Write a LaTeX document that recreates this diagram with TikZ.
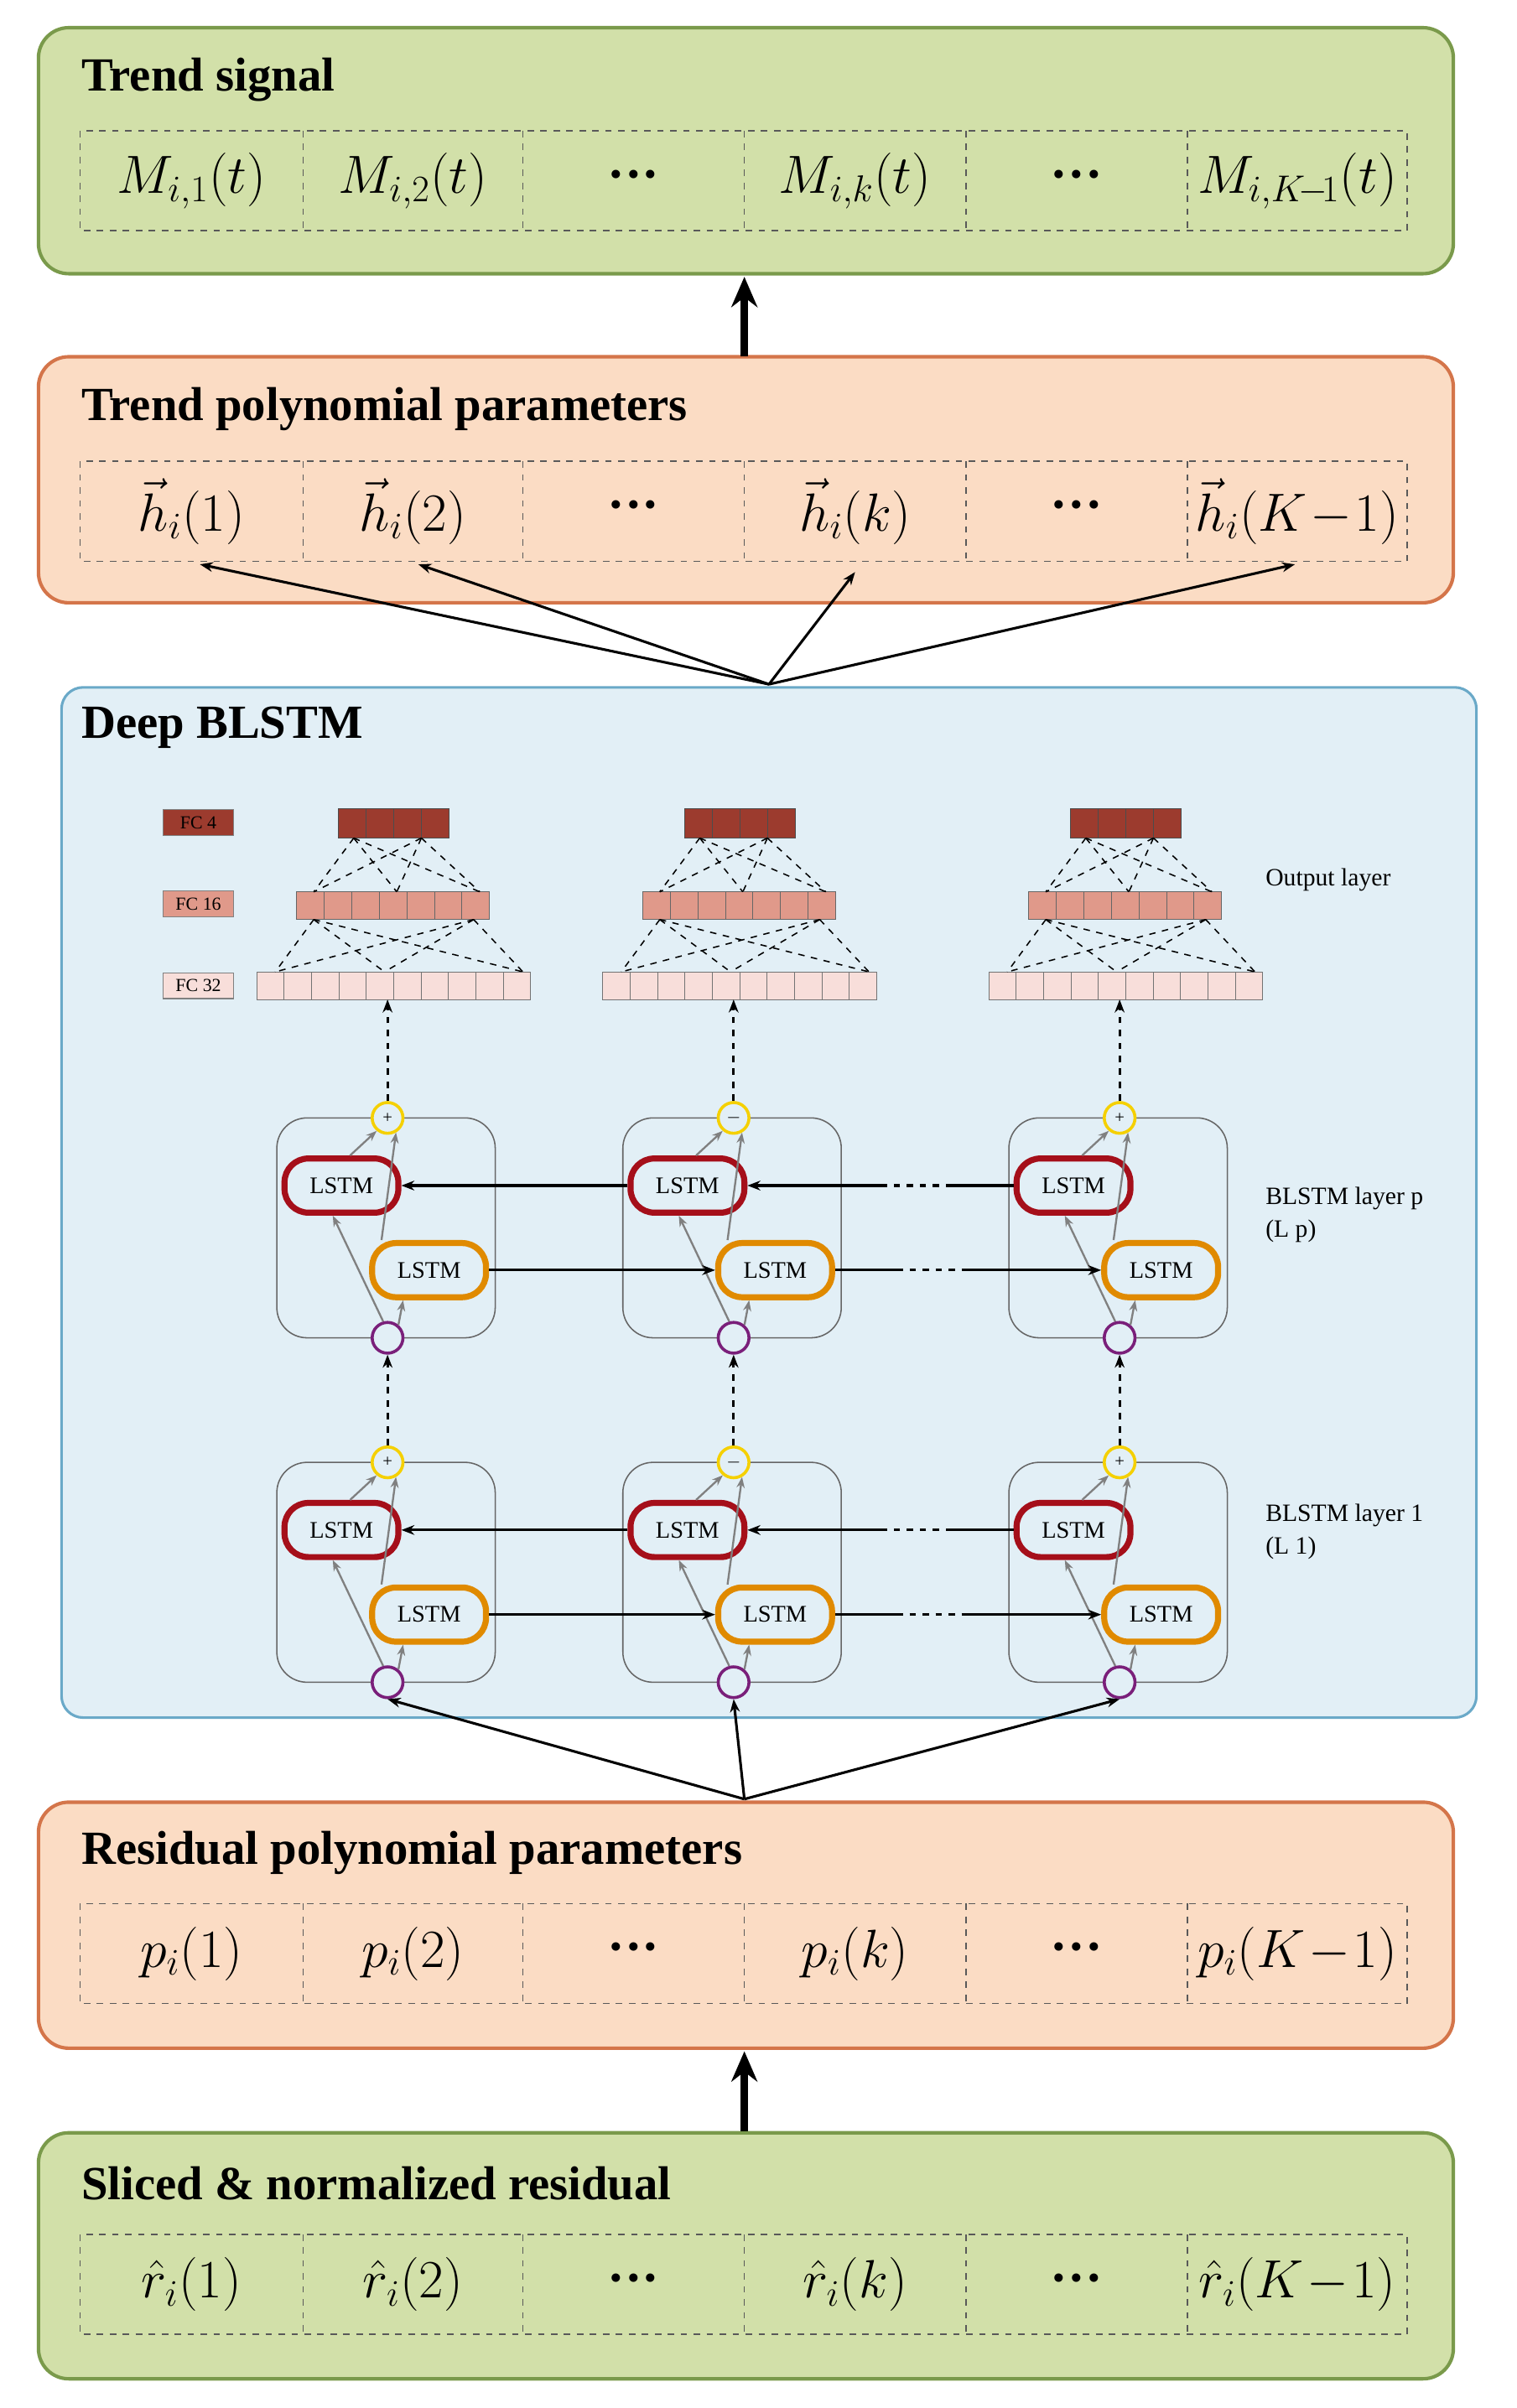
\documentclass[tikz,border=0pt]{standalone}
\usepackage{fontspec}
\setmainfont{Liberation Serif}
\usetikzlibrary{arrows.meta,calc}
\definecolor{gfill}{HTML}{D2E0A9}\definecolor{gline}{HTML}{7A9A4B}
\definecolor{ofill}{HTML}{FBDCC4}\definecolor{oline}{HTML}{D4754A}
\definecolor{bfill}{HTML}{E2EFF6}\definecolor{bline}{HTML}{6AA9C8}
\definecolor{fcA}{HTML}{9C3B2E}\definecolor{fcB}{HTML}{E0998A}\definecolor{fcC}{HTML}{F8DEDA}
\definecolor{lred}{HTML}{A50F1A}\definecolor{lorg}{HTML}{E08A00}
\definecolor{lyel}{HTML}{F5D000}\definecolor{lpur}{HTML}{7A1F7A}
\begin{document}
\begin{tikzpicture}[x=0.025cm,y=-0.025cm,
  bigbox/.style={rounded corners=14pt,line width=1.6pt},
  title/.style={anchor=west,font=\fontsize{22}{26}\selectfont\bfseries},
  cell/.style={font=\fontsize{24}{28}\selectfont},
  lstm/.style={rounded corners=11pt,line width=2.8pt,minimum width=1.85cm,minimum height=0.88cm,fill=bfill,font=\fontsize{11}{13}\selectfont},
  circ/.style={circle,line width=1.4pt,minimum size=0.5cm,inner sep=0pt,fill=bfill,font=\fontsize{8}{8}\selectfont},
  gar/.style={gray,line width=0.9pt,-{Stealth[length=5pt]}},
  bar/.style={-{Stealth[length=6pt]},line width=1.2pt},
  big/.style={-{Stealth[length=14pt,width=12pt]},line width=3.5pt},
  lab/.style={anchor=west,font=\fontsize{11.5}{15}\selectfont,align=left}]
\useasboundingbox (0,0) rectangle (986,1566);
\newcommand{\dts}{{\bfseries\textperiodcentered\textperiodcentered\textperiodcentered}}
\newcommand{\cellrow}[6]{%
  \draw[dashed,gray!70!black,line width=0.6pt] (52,#1) rectangle (915,#1+65);
  \foreach \xx in {197,340,484,628,772}{\draw[gray!70!black,dashed,line width=0.6pt] (\xx,#1) -- (\xx,#1+65);}
  \node[cell] (#2a) at (124.5,#1+32.5) {#3};
  \node[cell] (#2b) at (268.5,#1+32.5) {#4};
  \node[cell] (#2c) at (412,#1+32.5) {\dts};
  \node[cell] (#2d) at (556,#1+32.5) {#5};
  \node[cell] (#2e) at (700,#1+32.5) {\dts};
  \node[cell] (#2f) at (843.5,#1+32.5) {#6};}

\draw[bigbox,fill=gfill,draw=gline] (25,18) rectangle (945,178);
\node[title] (t1) at (48,52) {Trend signal};
\cellrow{85}{ts}{$M_{i,1}\bigl(t\bigr)$}{$M_{i,2}\bigl(t\bigr)$}{$M_{i,k}\bigl(t\bigr)$}{$M_{i,K\!-\!1}\bigl(t\bigr)$}

\draw[bigbox,fill=ofill,draw=oline] (25,232) rectangle (945,392);
\node[title] (t2) at (48,266) {Trend polynomial parameters};
\cellrow{300}{tp}{$\vec{h}_i\bigl(1\bigr)$}{$\vec{h}_i\bigl(2\bigr)$}{$\vec{h}_i\bigl(k\bigr)$}{$\vec{h}_i\bigl(K\!-\!1\bigr)$}

\draw[rounded corners=10pt,line width=1.2pt,fill=bfill,draw=bline] (40,447) rectangle (960,1117);
\node[title] (t3) at (48,473) {Deep BLSTM};

\draw[bigbox,fill=ofill,draw=oline] (25,1172) rectangle (945,1332);
\node[title] (t4) at (48,1205) {Residual polynomial parameters};
\cellrow{1238}{rp}{$p_i\bigl(1\bigr)$}{$p_i\bigl(2\bigr)$}{$p_i\bigl(k\bigr)$}{$p_i\bigl(K\!-\!1\bigr)$}

\draw[bigbox,fill=gfill,draw=gline] (25,1387) rectangle (945,1547);
\node[title] (t5) at (48,1420) {Sliced \& normalized residual};
\cellrow{1453}{sr}{$\hat{r}_i\bigl(1\bigr)$}{$\hat{r}_i\bigl(2\bigr)$}{$\hat{r}_i\bigl(k\bigr)$}{$\hat{r}_i\bigl(K\!-\!1\bigr)$}

\coordinate (a1s) at (484,232); \coordinate (a1e) at (484,180);
\draw[big] (a1s) -- (a1e);
\coordinate (a2s) at (484,1386); \coordinate (a2e) at (484,1334);
\draw[big] (a2s) -- (a2e);

\node[draw=gray,fill=fcA,minimum width=1.15cm,minimum height=0.42cm,inner sep=0pt,font=\fontsize{8.5}{8}\selectfont] (lfc4) at (129,535) {FC 4};
\node[draw=gray,fill=fcB,minimum width=1.15cm,minimum height=0.42cm,inner sep=0pt,font=\fontsize{8.5}{8}\selectfont] (lfc16) at (129,588) {FC 16};
\node[draw=gray,fill=fcC,minimum width=1.15cm,minimum height=0.42cm,inner sep=0pt,font=\fontsize{8.5}{8}\selectfont] (lfc32) at (129,641) {FC 32};
\node[lab] (ol) at (818,572) {Output layer};
\node[lab] (lp) at (818,790) {BLSTM layer p\\(L p)};
\node[lab] (l1) at (818,996) {BLSTM layer 1\\(L 1)};

\foreach \i/\cx/\sg in {1/252/+,2/477/$-$,3/728/+}{
  \foreach \k in {0,...,3}{\draw[fill=fcA,draw=black!70] (\cx-32+\k*18,526) rectangle ++(18,19);}
  \foreach \k in {0,...,6}{\draw[fill=fcB,draw=black!60] (\cx-59+\k*17.9,580) rectangle ++(17.9,18);}
  \foreach \k in {0,...,9}{\draw[fill=fcC,draw=black!55] (\cx-85+\k*17.8,632) rectangle ++(17.8,18);}
  \coordinate (fc32b\i) at (\cx,650);
  \foreach \a in {-22,22}{\foreach \b in {-48,6,60}{\draw[dashed,line width=0.6pt] (\cx+\a,545) -- (\cx+\b,580);}}
  \foreach \a in {-48,56}{\foreach \b in {-73,-2,88}{\draw[dashed,line width=0.6pt] (\cx+\a,598) -- (\cx+\b,632);}}
  \foreach \L/\dy in {p/0,o/224}{
    \draw[gray!80!black,rounded corners=14pt,line width=0.6pt] (\cx-72,727+\dy) rectangle (\cx+70,870+\dy);
    \node[lstm,draw=lred] (r\L\i) at (\cx-30,771+\dy) {LSTM};
    \node[lstm,draw=lorg] (o\L\i) at (\cx+27,826+\dy) {LSTM};
    \node[circ,draw=lyel] (y\L\i) at (\cx,727+\dy) {\sg};
    \node[circ,draw=lpur] (u\L\i) at (\cx,870+\dy) {};
    \draw[gar] (u\L\i.105) -- ([xshift=-4]r\L\i.south);
    \draw[gar] (u\L\i.50) -- ([xshift=-12]o\L\i.south);
    \draw[gar] ([xshift=4]r\L\i.north) -- (y\L\i.230);
    \draw[gar] ([xshift=-22]o\L\i.north) -- (y\L\i.300);
  }
  \draw[bar,dashed] (yp\i) -- (fc32b\i);
  \draw[bar,dashed] (yo\i) -- (up\i);
}
\foreach \L in {p,o}{
  \draw[bar] (r\L2.west) -- (r\L1.east);
  \draw[bar] (o\L1.east) -- (o\L2.west);
  \coordinate (ra\L) at ($(r\L3.west)+(-40,0)$); \coordinate (rb\L) at ($(r\L3.west)+(-85,0)$);
  \draw[line width=1.2pt] (r\L3.west) -- (ra\L);
  \draw[line width=1.2pt,dashed] (ra\L) -- (rb\L);
  \draw[bar] (rb\L) -- (r\L2.east);
  \coordinate (oa\L) at ($(o\L2.east)+(40,0)$); \coordinate (ob\L) at ($(o\L2.east)+(85,0)$);
  \draw[line width=1.2pt] (o\L2.east) -- (oa\L);
  \draw[line width=1.2pt,dashed] (oa\L) -- (ob\L);
  \draw[bar] (ob\L) -- (o\L3.west);
}
\coordinate (fan1) at (500,445);
\draw[bar] (fan1) -- (130,367);
\draw[bar] (fan1) -- (272,367);
\draw[bar] (fan1) -- (556,372);
\draw[bar] (fan1) -- (842,367);
\coordinate (fan2) at (484,1170);
\draw[bar] (fan2) -- (uo1.south);
\draw[bar] (fan2) -- (uo2.south);
\draw[bar] (fan2) -- (uo3.south);
\end{tikzpicture}
\end{document}
